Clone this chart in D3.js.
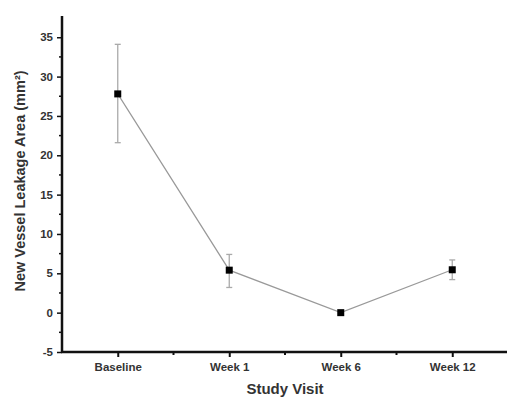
<!DOCTYPE html>
<html lang="en">
<head>
<meta charset="UTF-8">
<title>New Vessel Leakage Area</title>
<script src="https://d3js.org/d3.v7.min.js"></script>
<style>
    body { margin: 0; background: #fff; }
    svg { display: block; font-family: Arial, "Liberation Sans", sans-serif; }
</style>
</head>
<body>
<svg width="507" height="398"></svg>
<script>
    const visits = ["Baseline", "Week 1", "Week 6", "Week 12"];
    const means = [27.8, 5.4, 0.0, 5.45];
    const errLow = [21.6, 3.2, 0.0, 4.2];
    const errHigh = [34.1, 7.4, 0.0, 6.7];
    const yTicks = [-5, 0, 5, 10, 15, 20, 25, 30, 35];

    const svg = d3.select("svg");
    const plotLeft = 62, plotRight = 508, plotTop = 16, plotBottom = 352;

    const x = d3.scaleLinear().domain([-0.5, 3.5]).range([plotLeft, plotRight]);
    const y = d3.scaleLinear().domain([-5, 37.7]).range([plotBottom, plotTop]);

    // y axis
    const yAxis = svg.append("g").attr("transform", `translate(${plotLeft},0)`);
    yAxis.call(d3.axisLeft(y).tickValues(yTicks).tickFormat(d => String(d)).tickSize(5).tickPadding(4));
    yAxis.select(".domain").remove();
    yAxis.selectAll(".tick line").attr("stroke", "#111").attr("stroke-width", 1.5);
    yAxis.selectAll(".tick text").attr("font-size", 11.5).attr("font-weight", "bold").attr("fill", "#333");
    yAxis.selectAll(".minor").data(d3.range(-2.5, 37.5, 5)).enter().append("line")
        .attr("x1", -3).attr("x2", 0)
        .attr("y1", d => y(d)).attr("y2", d => y(d))
        .attr("stroke", "#111").attr("stroke-width", 1.5);

    // x axis
    const xAxis = svg.append("g").attr("transform", `translate(0,${plotBottom})`);
    xAxis.call(d3.axisBottom(x).tickValues([0, 1, 2, 3]).tickFormat(i => visits[i]).tickSize(5).tickPadding(6));
    xAxis.select(".domain").remove();
    xAxis.selectAll(".tick line").attr("stroke", "#111").attr("stroke-width", 2);
    xAxis.selectAll(".tick text").attr("font-size", 11.5).attr("font-weight", "bold").attr("fill", "#333");
    xAxis.selectAll(".minor").data([0.5, 1.5, 2.5]).enter().append("line")
        .attr("x1", d => x(d)).attr("x2", d => x(d))
        .attr("y1", 0).attr("y2", 3)
        .attr("stroke", "#111").attr("stroke-width", 2);

    // axis lines
    svg.append("line").attr("x1", plotLeft).attr("x2", plotLeft).attr("y1", plotTop).attr("y2", plotBottom + 1)
        .attr("stroke", "#111").attr("stroke-width", 2.5);
    svg.append("line").attr("x1", plotLeft - 1).attr("x2", plotRight).attr("y1", plotBottom).attr("y2", plotBottom)
        .attr("stroke", "#111").attr("stroke-width", 2.5);

    // error bars
    const err = svg.append("g").attr("stroke", "#aaa").attr("stroke-width", 1.3);
    visits.forEach((v, i) => {
        if (errHigh[i] === errLow[i]) return;
        err.append("line").attr("x1", x(i)).attr("x2", x(i)).attr("y1", y(errLow[i])).attr("y2", y(errHigh[i]));
        err.append("line").attr("x1", x(i) - 3).attr("x2", x(i) + 3).attr("y1", y(errLow[i])).attr("y2", y(errLow[i]));
        err.append("line").attr("x1", x(i) - 3).attr("x2", x(i) + 3).attr("y1", y(errHigh[i])).attr("y2", y(errHigh[i]));
    });

    // connecting line
    svg.append("path")
        .datum(means)
        .attr("fill", "none")
        .attr("stroke", "#999")
        .attr("stroke-width", 1.2)
        .attr("d", d3.line().x((d, i) => x(i)).y(d => y(d)));

    // markers
    svg.selectAll(".pt").data(means).enter().append("rect")
        .attr("x", (d, i) => x(i) - 3.5)
        .attr("y", d => y(d) - 3.5)
        .attr("width", 7).attr("height", 7)
        .attr("fill", "#000");

    // axis titles
    svg.append("text")
        .attr("transform", "translate(25,181) rotate(-90)")
        .attr("text-anchor", "middle")
        .attr("font-size", 14.5).attr("font-weight", "bold").attr("fill", "#333")
        .text("New Vessel Leakage Area (mm²)");

    svg.append("text")
        .attr("x", 285).attr("y", 394)
        .attr("text-anchor", "middle")
        .attr("font-size", 15).attr("font-weight", "bold").attr("fill", "#333")
        .text("Study Visit");
</script>
</body>
</html>
